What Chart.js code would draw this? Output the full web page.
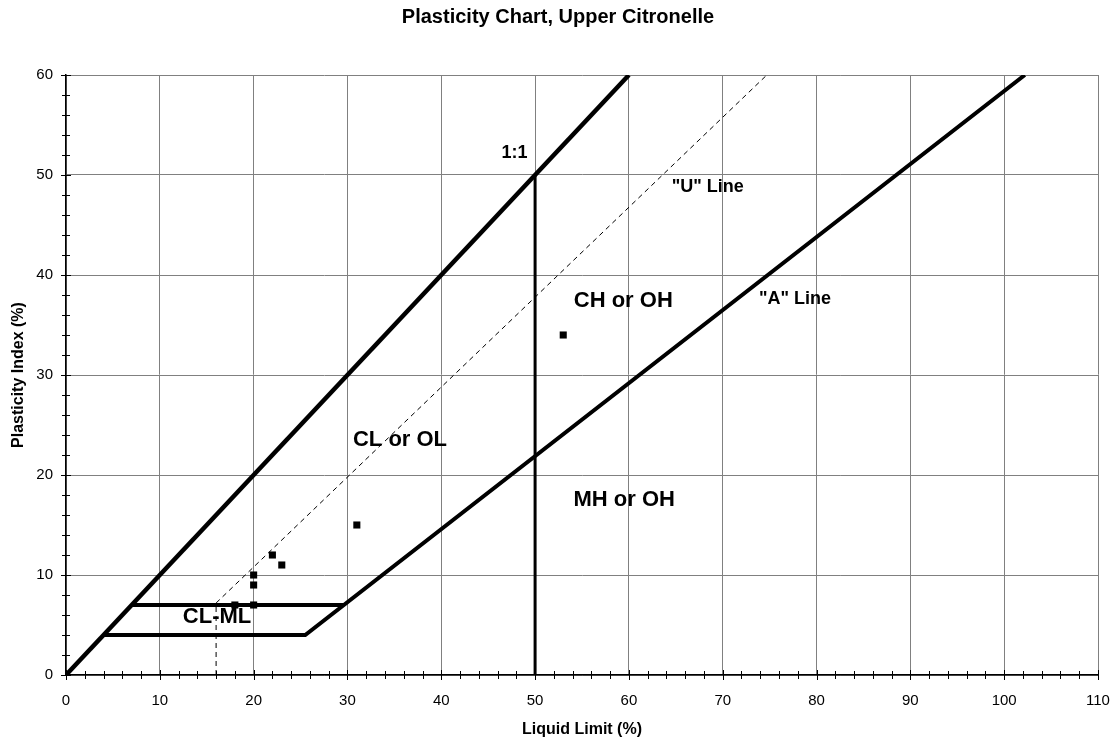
<!DOCTYPE html>
<html>
<head>
<meta charset="utf-8">
<title>Plasticity Chart</title>
<script src="https://cdn.jsdelivr.net/npm/chart.js@4"></script>
<style>
  html, body { margin: 0; padding: 0; background: #fff; }
  canvas { display: block; }
</style>
</head>
<body>
<canvas id="plasticityChart" width="1119" height="744"></canvas>
<script>
// sample results (liquid limit / plasticity index, %)
const sampleLL = [20, 20, 20, 18, 22, 23, 31, 53];
const samplePI = [7, 9, 10, 7, 12, 11, 15, 34];

// classification boundary lines
const oneToOneLL = [0, 60];
const oneToOnePI = [0, 60];
const aLineLL = [4, 25.5, 102.2];   // PI = 0.73 (LL - 20), starting from the PI 4 step
const aLinePI = [4, 4, 60];
const clmlTopLL = [7, 29.6];
const clmlTopPI = [7, 7];
const llFiftyLL = [50, 50];
const llFiftyPI = [0, 50];
const uLineLL = [16, 16, 74.7];     // PI = 0.9 (LL - 8)
const uLinePI = [0, 7.2, 60];

// zone / line labels
const zoneText = ['1:1', '"U" Line', '"A" Line', 'CH or OH', 'CL or OL', 'MH or OH', 'CL-ML'];
const zoneLL = [47.8, 68.4, 77.7, 59.4, 35.6, 59.5, 16.1];
const zonePI = [52.2, 48.8, 37.6, 37.4, 23.5, 17.5, 5.8];
const zoneBig = [false, false, false, true, true, true, true];

// axis ticks
const llTicks = [0, 10, 20, 30, 40, 50, 60, 70, 80, 90, 100, 110];
const piTicks = [0, 10, 20, 30, 40, 50, 60];

const FONT = 'Arial, "Liberation Sans", sans-serif';

function toPoints(xs, ys) {
  return xs.map((x, i) => ({ x: x, y: ys[i] }));
}

function boundary(xs, ys, width, dash) {
  return {
    data: toPoints(xs, ys),
    showLine: true,
    borderColor: '#000',
    borderWidth: width,
    borderDash: dash || [],
    pointRadius: 0,
    pointHoverRadius: 0,
    tension: 0
  };
}

// crossing tick marks (major every 10, minor every 2) on both axes
const tickMarks = {
  id: 'tickMarks',
  afterDatasetsDraw(chart) {
    const ctx = chart.ctx;
    const xs = chart.scales.x, ys = chart.scales.y;
    const area = chart.chartArea;
    ctx.save();
    ctx.strokeStyle = '#000';
    ctx.lineWidth = 1;
    ctx.beginPath();
    for (let v = 0; v <= 110; v += 2) {
      const px = Math.round(xs.getPixelForValue(v)) + 0.5;
      const len = v % 10 === 0 ? 5 : 4;
      ctx.moveTo(px, area.bottom - len);
      ctx.lineTo(px, area.bottom + len);
    }
    for (let v = 0; v <= 60; v += 2) {
      const py = Math.round(ys.getPixelForValue(v)) + 0.5;
      const len = v % 10 === 0 ? 5 : 4;
      ctx.moveTo(area.left - len, py);
      ctx.lineTo(area.left + len, py);
    }
    ctx.stroke();
    ctx.restore();
  },
  afterDraw(chart) {
    const ctx = chart.ctx;
    const xs = chart.scales.x, ys = chart.scales.y;
    const area = chart.chartArea;
    ctx.save();
    ctx.fillStyle = '#000';
    ctx.textAlign = 'center';
    ctx.textBaseline = 'middle';

    // labels inside the plot
    zoneText.forEach((t, i) => {
      ctx.font = 'bold ' + (zoneBig[i] ? 22 : 18) + 'px ' + FONT;
      ctx.fillText(t, xs.getPixelForValue(zoneLL[i]), ys.getPixelForValue(zonePI[i]));
    });

    // title and axis titles
    ctx.textBaseline = 'alphabetic';
    ctx.font = 'bold 20px ' + FONT;
    ctx.fillText('Plasticity Chart, Upper Citronelle', 558, 23);
    ctx.font = 'bold 16px ' + FONT;
    ctx.fillText('Liquid Limit (%)', (area.left + area.right) / 2, 734);
    ctx.textBaseline = 'middle';
    ctx.translate(19, (area.top + area.bottom) / 2);
    ctx.rotate(-Math.PI / 2);
    ctx.fillText('Plasticity Index (%)', 0, 0);
    ctx.restore();
  }
};

const ctx = document.getElementById('plasticityChart').getContext('2d');
new Chart(ctx, {
  type: 'scatter',
  data: {
    datasets: [
      {
        data: toPoints(sampleLL, samplePI),
        pointStyle: 'rect',
        pointRadius: 5,
        pointHoverRadius: 5,
        backgroundColor: '#000',
        borderColor: '#000',
        borderWidth: 0,
        showLine: false
      },
      boundary(oneToOneLL, oneToOnePI, 4.5),
      boundary(aLineLL, aLinePI, 4),
      boundary(clmlTopLL, clmlTopPI, 4),
      boundary(llFiftyLL, llFiftyPI, 3),
      boundary(uLineLL, uLinePI, 1, [5, 4])
    ]
  },
  options: {
    responsive: false,
    animation: false,
    devicePixelRatio: 1,
    layout: { padding: { top: 75, right: 21, bottom: 0, left: 0 } },
    plugins: {
      legend: { display: false },
      title: { display: false },
      tooltip: { enabled: false }
    },
    scales: {
      x: {
        type: 'linear',
        min: 0,
        max: 110,
        afterBuildTicks: scale => { scale.ticks = llTicks.map(v => ({ value: v })); },
        afterFit: scale => {
          scale.height = 69;
          scale.paddingLeft = 0;
          scale.paddingRight = 0;
        },
        ticks: { color: '#000', padding: 17, maxRotation: 0, font: { family: FONT, size: 15 } },
        grid: { color: '#808080', lineWidth: 1, drawTicks: false },
        border: { color: '#000', width: 1.5 }
      },
      y: {
        type: 'linear',
        min: 0,
        max: 60,
        afterBuildTicks: scale => { scale.ticks = piTicks.map(v => ({ value: v })); },
        afterFit: scale => {
          scale.width = 66;
          scale.paddingTop = 0;
          scale.paddingBottom = 0;
        },
        ticks: { color: '#000', padding: 13, font: { family: FONT, size: 15 } },
        grid: { color: '#808080', lineWidth: 1, drawTicks: false },
        border: { color: '#000', width: 1.5 }
      }
    }
  },
  plugins: [tickMarks]
});
</script>
</body>
</html>
